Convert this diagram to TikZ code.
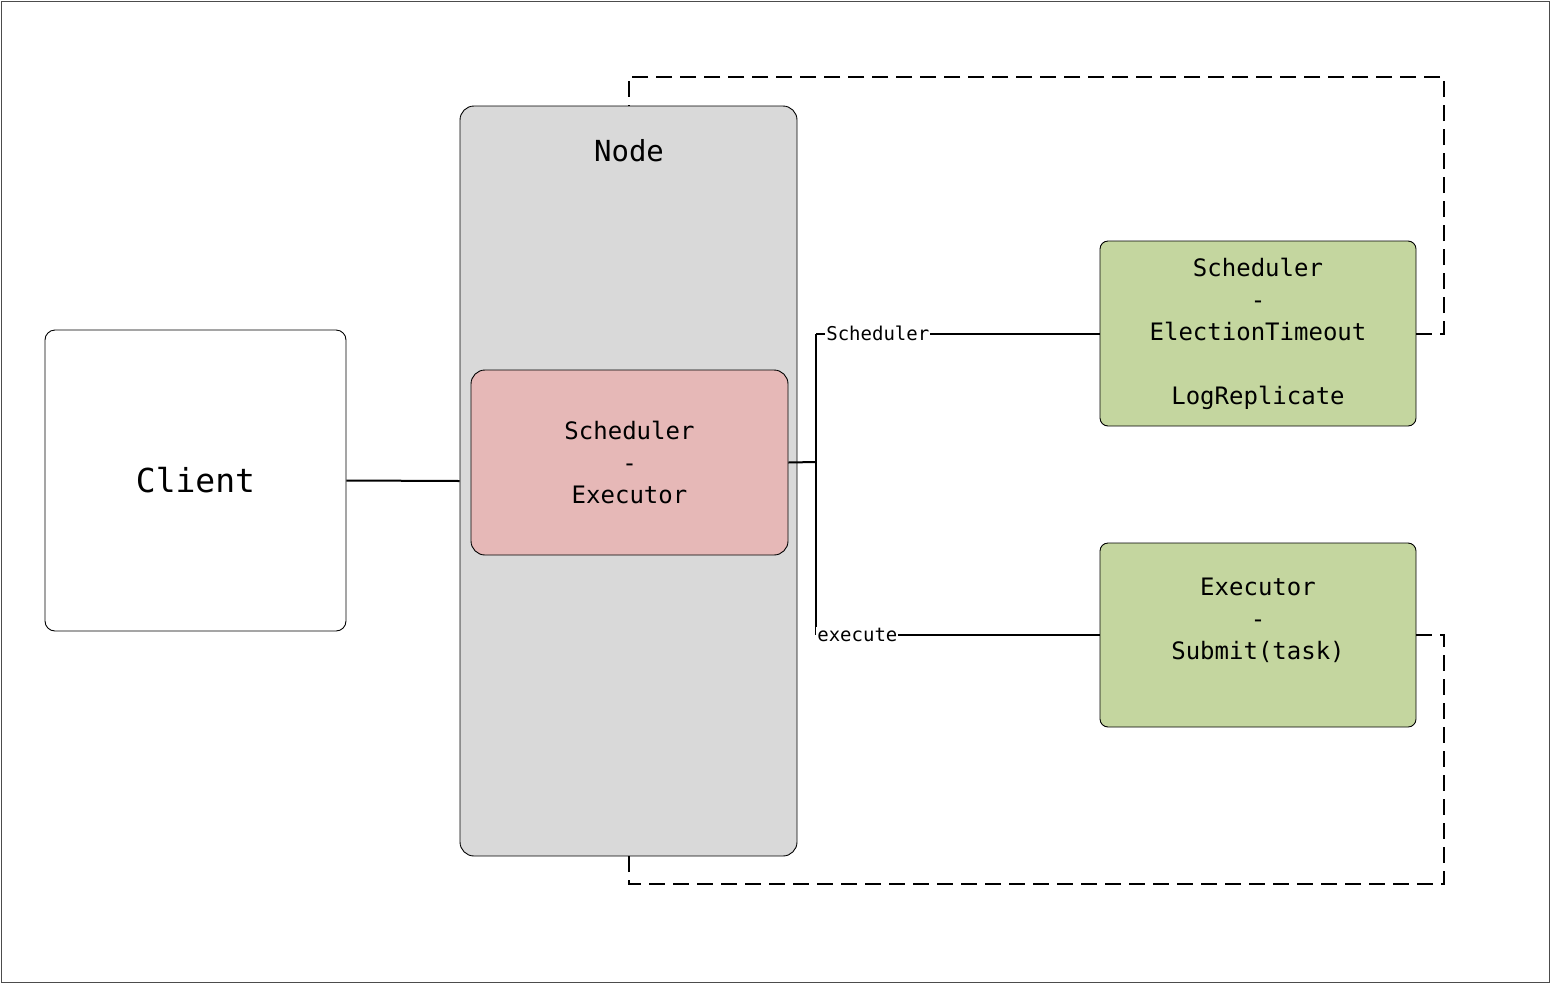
\documentclass[tikz,border=0pt]{standalone}
\usepackage{fontspec}
\setmonofont{DejaVu Sans Mono}
\begin{document}
\begin{tikzpicture}[x=1pt,y=-1pt,
  box/.style={draw=black, line width=0.9pt, align=center, inner sep=0pt, font=\ttfamily\fontsize{24}{32}\selectfont},
  conn/.style={draw=black, line width=2pt},
  dashconn/.style={draw=black, line width=2pt, dash pattern=on 16pt off 8pt},
  lbl/.style={fill=white, inner sep=1pt, font=\ttfamily\fontsize{19}{22}\selectfont}
]
\useasboundingbox (0,0) rectangle (1550,983);
\draw[draw=black!70, line width=1pt] (1,1) rectangle (1549,982);

% nodes
\node[box, rounded corners=10pt, fill=white, minimum width=301pt, minimum height=301pt,
      font=\ttfamily\fontsize{33}{40}\selectfont] (client) at (195.5,480.5) {Client};
\node[box, rounded corners=14pt, fill={rgb,255:red,217;green,217;blue,217}, minimum width=337pt, minimum height=750pt] (node) at (628.5,481) {};
\node[font=\ttfamily\fontsize{29}{34}\selectfont, inner sep=0pt] (nodetitle) at (629,151) {Node};
\node[box, rounded corners=14pt, fill={rgb,255:red,230;green,184;blue,183}, minimum width=317pt, minimum height=185pt] (red) at (629.5,462.5) {Scheduler\\-\\Executor};
\node[box, rounded corners=8pt, fill={rgb,255:red,196;green,214;blue,159}, minimum width=316pt, minimum height=185pt] (g1) at (1258,333.5) {Scheduler\\-\\ElectionTimeout\\\\LogReplicate};
\node[box, rounded corners=8pt, fill={rgb,255:red,196;green,214;blue,159}, minimum width=316pt, minimum height=184pt] (g2) at (1258,635) {Executor\\-\\Submit(task)\\\mbox{}};

% junction coordinates
\coordinate (j) at (816,462);
\coordinate (jt) at (816,333.5);
\coordinate (jb) at (816,635);
\coordinate (dtop) at (1444,77);
\coordinate (dbot) at (1444,884);

% solid connectors
\draw[conn] (client.east) -- (node.west);
\draw[conn] (red.east) -- (j);
\draw[conn] (jt) -- (jb);
\draw[conn] (jt) -- node[lbl, pos=0.218] {Scheduler} (g1.west);
\draw[conn] (jb) -- node[lbl, pos=0.146] {execute} (g2.west);

% dashed loops
\draw[dashconn] (g1.east) -| (dtop) -| (node.north);
\draw[dashconn] (g2.east) -| (dbot) -| (node.south);
\end{tikzpicture}
\end{document}
